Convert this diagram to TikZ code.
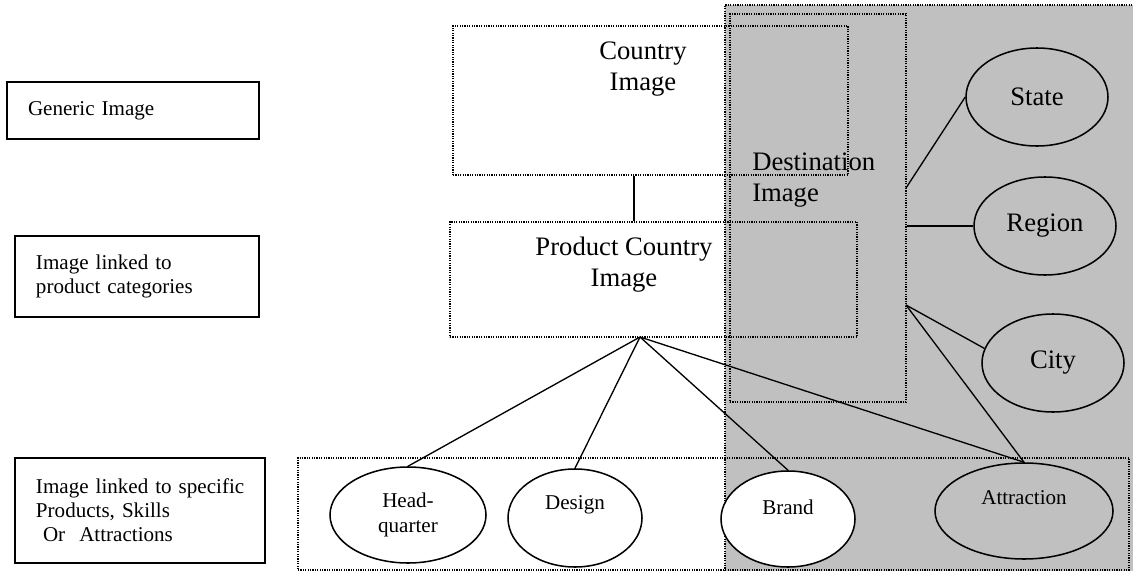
\documentclass[tikz,border=0pt]{standalone}
\usepackage{fontspec}
\setmainfont{Liberation Serif}
\usetikzlibrary{shapes.geometric}
\definecolor{areagray}{RGB}{192,192,192}
\tikzset{
  dotline/.style={line width=0.9pt, dash pattern=on 0.9pt off 0.9pt},
  lvlbox/.style={draw, line width=1.4pt, align=left, inner xsep=15.75pt,
    font=\fontsize{15.8}{18}\selectfont},
  imgbox/.style={draw, dotline, inner sep=0pt},
  bigtxt/.style={align=center, inner sep=0pt, font=\fontsize{20}{23.25}\selectfont},
  smalltxt/.style={align=center, inner sep=0pt, font=\fontsize{15.8}{18.5}\selectfont},
  oval/.style={draw, ellipse, line width=1.15pt, inner sep=0pt},
  link/.style={line width=1pt},
}
\begin{document}
\begin{tikzpicture}[x=0.75pt,y=-0.75pt]
\useasboundingbox (0,0) rectangle (1133,571);
% destination area
\fill[areagray] (725,5) rectangle (1133,571);
\draw[dotline] (725,571) -- (725,5) -- (1133,5);

% levels
\node[lvlbox, text width=157.5pt, minimum height=42.75pt] (generic) at (133,110.5) {Generic Image};
\node[lvlbox, text width=151.5pt, minimum height=60.75pt] (category) at (137,276.5) {Image linked to\\product categories};
\node[lvlbox, text width=156pt, minimum height=78.75pt] (specific) at (140,510.5) {\mbox{Image linked to specific}\\Products, Skills\\\ Or\ \ Attractions};

% image boxes
\node[imgbox, minimum width=296.25pt, minimum height=111.75pt] (country) at (650.5,100.5) {};
\node[bigtxt] (country-t) at (643,69) {Country\\Image};
\node[imgbox, minimum width=305.25pt, minimum height=86.25pt] (product) at (653.5,279.5) {};
\node[bigtxt] (product-t) at (624,265) {Product Country\\Image};
\node[imgbox, minimum width=132pt, minimum height=291pt] (dest) at (818,208) {};
\node[bigtxt, align=left, anchor=west] (dest-t) at (752,180) {Destination\\Image};
\node[imgbox, minimum width=623.25pt, minimum height=84pt] (bottom) at (713.5,514) {};

% places
\node[oval, smalltxt, font=\fontsize{20}{23}\selectfont, minimum width=106.5pt, minimum height=73.5pt] (state) at (1037,97) {State};
\node[oval, smalltxt, font=\fontsize{20}{23}\selectfont, minimum width=106.5pt, minimum height=73.5pt] (region) at (1045,226) {Region};
\node[oval, smalltxt, font=\fontsize{20}{23}\selectfont, minimum width=106.5pt, minimum height=73.5pt] (city) at (1053,363) {City};

% specific items
\node[oval, smalltxt, fill=white, minimum width=117pt, minimum height=72pt] (hq) at (408,515) {Head-\\quarter};
\node[oval, fill=white, minimum width=100.5pt, minimum height=73.5pt] (design) at (575,518) {};
\node[smalltxt] (design-t) at (575,505) {Design};
\node[oval, fill=white, minimum width=100.5pt, minimum height=72pt] (brand) at (788,519) {};
\node[smalltxt] (brand-t) at (788,507) {Brand};
\node[oval, minimum width=133.5pt, minimum height=72pt] (attraction) at (1024,511) {};
\node[smalltxt] (attraction-t) at (1024,498) {Attraction};

% connectors
\coordinate (stem) at (634,0);
\coordinate (hub) at (640,337);
\coordinate (dtop) at (906,188);
\coordinate (dlow) at (906,305);
\draw[link] (country.south -| stem) -- (product.north -| stem);
\draw[link] (hub) -- (hq.north);
\draw[link] (hub) -- (design.north);
\draw[link] (hub) -- (brand.north);
\draw[link] (hub) -- (attraction.north);
\draw[link] (dtop) -- (state.west);
\draw[link] (dest.east |- region.west) -- (region.west);
\draw[link] (dlow) -- (city.168);
\draw[link] (dlow) -- (attraction.north);
\end{tikzpicture}
\end{document}
